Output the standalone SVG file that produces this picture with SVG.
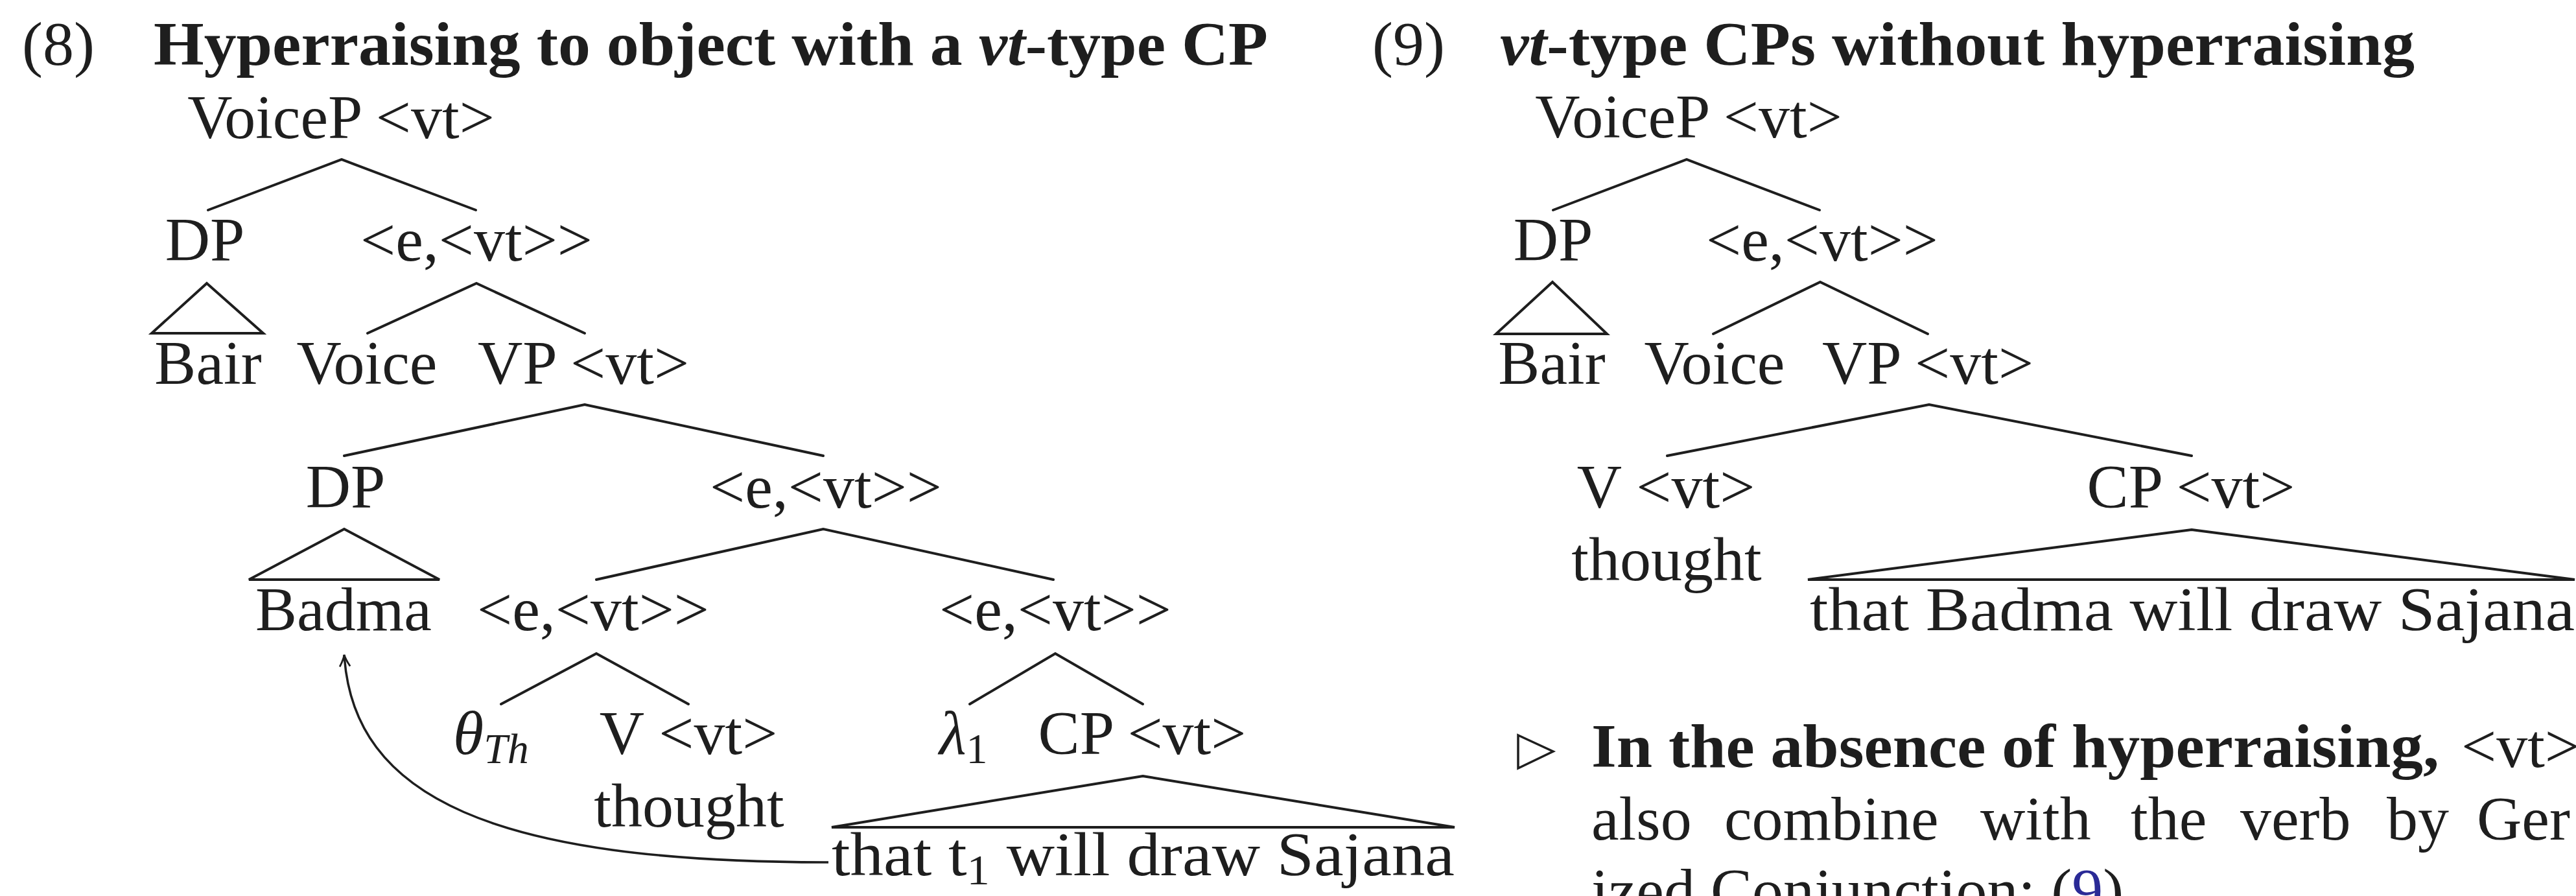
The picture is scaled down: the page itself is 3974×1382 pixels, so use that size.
<svg xmlns="http://www.w3.org/2000/svg" width="3974" height="1382" viewBox="0 0 3974 1382">
<style>
text{font-family:"Liberation Serif","Times New Roman",serif;font-size:96px;fill:#1e1e1e}
.m{text-anchor:middle}
.b{font-weight:bold}
.i{font-style:italic}
.sub{font-size:66px}
.e{stroke:#1e1e1e;stroke-width:4;fill:none;stroke-linecap:round;stroke-linejoin:miter}
.tri{stroke:#1e1e1e;stroke-width:4;fill:none;stroke-linejoin:miter}
.arc{stroke:#1e1e1e;stroke-width:3.5;fill:none}
</style>
<defs>
<marker id="ah" viewBox="-20 -10 22 20" markerWidth="22" markerHeight="20" markerUnits="userSpaceOnUse" refX="0" refY="0" orient="auto">
<path d="M-18,-8 Q-7,-1.5 0,0 Q-7,1.5 -18,8" fill="none" stroke="#1e1e1e" stroke-width="2.8"/>
</marker>
</defs>
<rect width="3974" height="1382" fill="#ffffff"/>

<g id="heading8">
<text x="34" y="100">(8)</text>
<text x="237" y="100" class="b" textLength="1719" lengthAdjust="spacingAndGlyphs">Hyperraising to object with a <tspan class="i">vt</tspan>-type CP</text>
</g>
<g id="heading9">
<text x="2117" y="100">(9)</text>
<text x="2314" y="100" class="b" textLength="1411" lengthAdjust="spacingAndGlyphs"><tspan class="i">vt</tspan>-type CPs without hyperraising</text>
</g>

<g id="connectors">
<!-- tree 8 -->
<path class="e" d="M321,324 L527,246 L734,324"/>
<path class="e" d="M567,514 L735,437 L902,514"/>
<path class="e" d="M531,703 L902,624 L1270,703"/>
<path class="e" d="M920,894 L1270,816 L1625,894"/>
<path class="e" d="M773,1086 L920,1008 L1062,1086"/>
<path class="e" d="M1496,1086 L1628,1008 L1763,1086"/>
<polygon class="tri" points="319,437 406,514 234,514"/>
<polygon class="tri" points="531,816 678,894 384,894"/>
<polygon class="tri" points="1763,1197 2244,1276 1283,1276"/>
<path class="arc" d="M1278,1330 C760,1330 545,1230 531,1010" marker-end="url(#ah)"/>
<!-- tree 9 -->
<path class="e" d="M2396,324 L2602,246 L2807,324"/>
<path class="e" d="M2643,515 L2808,435 L2974,515"/>
<path class="e" d="M2572,703 L2976,624 L3381,703"/>
<polygon class="tri" points="2395,435 2479,515 2308,515"/>
<polygon class="tri" points="3381,817 3972,894 2789,894"/>
</g>

<g id="t8-voicep"><text class="m" x="526" y="213">VoiceP &lt;vt&gt;</text></g>
<g id="t8-dp1"><text class="m" x="316" y="402">DP</text></g>
<g id="t8-evt1"><text class="m" x="735" y="402">&lt;e,&lt;vt&gt;&gt;</text></g>
<g id="t8-bair"><text class="m" x="321" y="592">Bair</text></g>
<g id="t8-voice"><text class="m" x="566" y="592">Voice</text></g>
<g id="t8-vp"><text class="m" x="900" y="592">VP &lt;vt&gt;</text></g>
<g id="t8-dp2"><text class="m" x="533" y="783">DP</text></g>
<g id="t8-evt2"><text class="m" x="1274" y="783">&lt;e,&lt;vt&gt;&gt;</text></g>
<g id="t8-badma"><text class="m" x="530" y="972">Badma</text></g>
<g id="t8-evt3"><text class="m" x="915" y="972">&lt;e,&lt;vt&gt;&gt;</text></g>
<g id="t8-evt4"><text class="m" x="1628" y="972">&lt;e,&lt;vt&gt;&gt;</text></g>
<g id="t8-theta"><text x="699" y="1163" class="i">θ<tspan class="sub" dy="14">Th</tspan></text></g>
<g id="t8-v"><text class="m" x="1062" y="1163">V &lt;vt&gt;</text><text class="m" x="1063" y="1275">thought</text></g>
<g id="t8-lambda"><text x="1449" y="1163" class="i">λ<tspan class="sub" dy="14" font-style="normal">1</tspan></text></g>
<g id="t8-cp"><text class="m" x="1762" y="1163">CP &lt;vt&gt;</text></g>
<g id="t8-clause"><text x="1283" y="1350" textLength="961" lengthAdjust="spacingAndGlyphs">that t<tspan class="sub" dy="14">1</tspan><tspan dy="-14"> will draw Sajana</tspan></text></g>

<g id="t9-voicep"><text class="m" x="2605" y="212">VoiceP &lt;vt&gt;</text></g>
<g id="t9-dp"><text class="m" x="2396" y="402">DP</text></g>
<g id="t9-evt"><text class="m" x="2811" y="402">&lt;e,&lt;vt&gt;&gt;</text></g>
<g id="t9-bair"><text class="m" x="2394" y="592">Bair</text></g>
<g id="t9-voice"><text class="m" x="2645" y="592">Voice</text></g>
<g id="t9-vp"><text class="m" x="2974" y="592">VP &lt;vt&gt;</text></g>
<g id="t9-v"><text class="m" x="2570" y="783">V &lt;vt&gt;</text><text class="m" x="2571" y="895">thought</text></g>
<g id="t9-cp"><text class="m" x="3380" y="783">CP &lt;vt&gt;</text></g>
<g id="t9-clause"><text x="2792" y="972" textLength="1180" lengthAdjust="spacingAndGlyphs">that Badma will draw Sajana</text></g>

<g id="remark">
<polygon points="2342,1134 2396,1159 2342,1185" fill="none" stroke="#1e1e1e" stroke-width="3.5"/>
<text x="2455" y="1183" class="b" textLength="1308" lengthAdjust="spacingAndGlyphs">In the absence of hyperraising,</text>
<text x="3797" y="1183">&lt;vt&gt;</text>
<text y="1295"><tspan x="2455">also</tspan><tspan x="2660">combine</tspan><tspan x="3055">with</tspan><tspan x="3287">the</tspan><tspan x="3456">verb</tspan><tspan x="3682">by</tspan><tspan x="3821">Ger</tspan></text>
<text x="2455" y="1406">ized Conjunction: (<tspan fill="#2a2a96">9</tspan>)</text>
</g>
</svg>
